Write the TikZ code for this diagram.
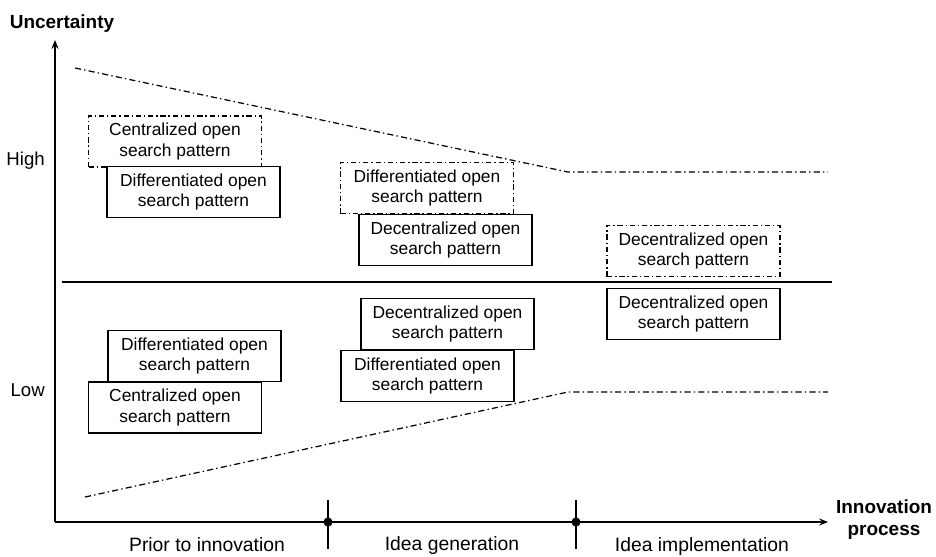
\documentclass[tikz,border=0pt]{standalone}
\usepackage{fontspec}
\setmainfont{Liberation Sans}
\usetikzlibrary{arrows.meta}
\begin{document}
\begin{tikzpicture}[x=0.02cm,y=-0.02cm,
  boxbase/.style={minimum width=3.46cm,minimum height=1.02cm,inner sep=0pt,align=center,
    font=\fontsize{9.9}{11.6}\selectfont},
  solidbox/.style={boxbase,draw,fill=white,line width=0.8pt},
  dashbox/.style={boxbase,draw,line width=0.7pt,dash pattern=on 3pt off 1.6pt on 0.8pt off 1.6pt},
  dashdotline/.style={line width=0.7pt,dash pattern=on 3.5pt off 1.8pt on 0.8pt off 1.8pt},
  axislabel/.style={font=\fontsize{10.8}{12.5}\selectfont\bfseries,align=center},
  phase/.style={font=\fontsize{11}{13}\selectfont},
  level/.style={font=\fontsize{10.6}{12}\selectfont,anchor=east},
  axisline/.style={line width=0.7pt}]
\useasboundingbox (0,0) rectangle (936,556);

% axes
\coordinate (O) at (55,522);
\coordinate (ytop) at (55,40);
\coordinate (xend) at (828,522);
\draw[axisline,-{Stealth[length=5pt,width=4pt]}] (O) -- (ytop);
\draw[axisline,-{Stealth[length=5pt,width=4pt]}] (O) -- (xend);
\node[axislabel] (unc) at (62,24) {Uncertainty};
\node[axislabel] (inno) at (884,520) {Innovation\\process};
\node[level] (high) at (51,161) {High};
\node[level] (low) at (51,390) {Low};

% ticks
\coordinate (t1a) at (328,500); \coordinate (t1b) at (328,549);
\coordinate (t2a) at (576,500); \coordinate (t2b) at (576,549);
\draw[axisline] (t1a) -- (t1b);
\draw[axisline] (t2a) -- (t2b);
\fill (328,522) circle (2.6pt);
\fill (576,522) circle (2.6pt);
\node[phase] (p1) at (207,545) {Prior to innovation};
\node[phase] (p2) at (452,545) {Idea generation};
\node[phase] (p3) at (702,546) {Idea implementation};

% middle line
\coordinate (m1) at (62,282); \coordinate (m2) at (832,282);
\draw[axisline] (m1) -- (m2);

% envelope lines
\coordinate (u1) at (75,68); \coordinate (u2) at (568,172); \coordinate (u3) at (828,172);
\coordinate (l1) at (85,497); \coordinate (l2) at (568,392); \coordinate (l3) at (828,392);
\draw[dashdotline] (u1) -- (u2) -- (u3);
\draw[dashdotline] (l1) -- (l2) -- (l3);

% dashed boxes
\node[dashbox] (b1) at (175,141.5) {Centralized open\\search pattern};
\node[dashbox] (b3) at (427,188) {Differentiated open\\search pattern};
\node[dashbox] (b5) at (693.5,251) {Decentralized open\\search pattern};

% solid boxes
\node[solidbox] (b2) at (193.5,192) {Differentiated open\\search pattern};
\node[solidbox] (b4) at (445.5,240) {Decentralized open\\search pattern};
\node[solidbox] (b6) at (693.5,314) {Decentralized open\\search pattern};
\node[solidbox] (b7) at (194.5,356) {Differentiated open\\search pattern};
\node[solidbox] (b8) at (175,407.5) {Centralized open\\search pattern};
\node[solidbox] (b9) at (447.5,324) {Decentralized open\\search pattern};
\node[solidbox] (b10) at (427.5,376) {Differentiated open\\search pattern};
\end{tikzpicture}
\end{document}
